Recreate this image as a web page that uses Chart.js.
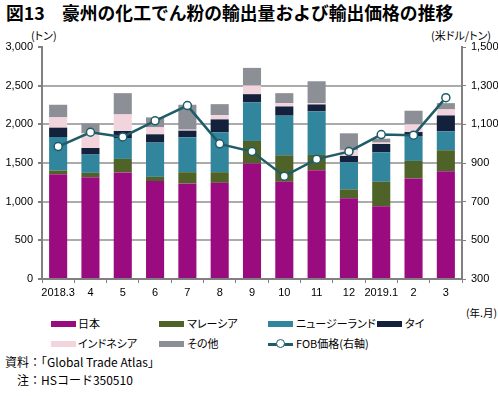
<!DOCTYPE html>
<html>
<head>
<meta charset="utf-8">
<script src="https://cdn.jsdelivr.net/npm/chart.js@4/dist/chart.umd.min.js"></script>
<style>
  body { margin: 0; background: #fff; }
  #wrap { position: relative; width: 498px; height: 396px; overflow: hidden; font-family: "Noto Sans CJK JP", "Liberation Sans", sans-serif; color: #000; }
  #chart { position: absolute; left: 0; top: 0; }
  .t { position: absolute; white-space: nowrap; line-height: 1; }
  .title { font-weight: bold; font-size: 17.8px; top: 4px; }
  .unit { font-size: 11px; top: 30px; font-feature-settings: "palt"; }
  .leg { font-size: 11px; font-feature-settings: "palt"; }
  .sw { position: absolute; width: 25px; height: 6px; }
  .note { font-size: 12px; }
</style>
</head>
<body>
<div id="wrap">
  <div class="t title" style="left:6px">図13</div>
  <div class="t title" style="left:62px">豪州の化工でん粉の輸出量および輸出価格の推移</div>
  <div class="t unit" style="left:31px">(トン)</div>
  <div class="t unit" style="left:431px">(米ドル/トン)</div>
  <canvas id="chart" width="498" height="300"></canvas>
  <div class="t leg" style="left:466px;top:308px;font-size:10.5px">(年.月)</div>

  <div class="sw" style="left:51px;top:321px;background:#9B0B80"></div>
  <div class="t leg" style="left:78px;top:318px">日本</div>
  <div class="sw" style="left:159px;top:321px;background:#4F6228"></div>
  <div class="t leg" style="left:187px;top:318px">マレーシア</div>
  <div class="sw" style="left:268px;top:321px;background:#31859C"></div>
  <div class="t leg" style="left:296px;top:318px">ニュージーランド</div>
  <div class="sw" style="left:377px;top:321px;background:#14213D"></div>
  <div class="t leg" style="left:405px;top:318px">タイ</div>

  <div class="sw" style="left:51px;top:341px;background:#F2D4DC"></div>
  <div class="t leg" style="left:78px;top:338px">インドネシア</div>
  <div class="sw" style="left:159px;top:341px;background:#8C8F96"></div>
  <div class="t leg" style="left:187px;top:338px">その他</div>
  <div class="sw" style="left:268px;top:343px;height:2.5px;background:#1F5C68"></div>
  <div style="position:absolute;left:276px;top:339px;width:7px;height:7px;border:1.5px solid #1F5C68;border-radius:50%;background:#fff"></div>
  <div class="t leg" style="left:296px;top:338px">FOB価格(右軸)</div>

  <div class="t note" style="left:5px;top:356px">資料：「Global Trade Atlas」</div>
  <div class="t note" style="left:17px;top:374px">注：HSコード350510</div>
</div>
<script>
// ---------------------------------------------------------------- DATA ----------------------------------------------------------------
const months = ['2018.3', '4', '5', '6', '7', '8', '9', '10', '11', '12', '2019.1', '2', '3'];

const japan     = [1356, 1317, 1378, 1266, 1236, 1244, 1493, 1257, 1407, 1043,  940, 1300, 1394];
const malaysia  = [  47,   56,  175,   55,  145,  137,  292,  343,  197,  116,  317,  227,  271];
const newZealand= [ 433,  236,  270,  443,  451,  516,  498,  512,  563,  351,  382,  322,  244];
const thailand  = [ 121,   85,   91,  107,   86,  167,  107,  119,   90,   81,  107,   51,  206];
const indonesia = [ 133,  190,  214,   90,   13,   55,  112,   43,   17,   78,   18,  100,   78];
const others    = [ 163,  128,  275,  129,  322,  142,  228,  129,  283,  215,   51,  176,   81];
const fobPrice  = [ 985, 1059, 1035, 1118, 1197,  999,  959,  832,  920,  959, 1047, 1044, 1238];

// ---------------------------------------------------------------- CHART ----------------------------------------------------------------
const tickFont = { family: "'Liberation Sans', Arial, sans-serif", size: 11 };
const axisGray = '#808080';

function bar(label, data, color) {
    return { type: 'bar', label: label, data: data, backgroundColor: color, yAxisID: 'y', order: 2,
             barPercentage: 0.56, categoryPercentage: 1.0 };
}

const ctx = document.getElementById('chart').getContext('2d');
const chart = new Chart(ctx, {
    data: {
        labels: months,
        datasets: [
            {
                type: 'line',
                label: 'FOB価格(右軸)',
                data: fobPrice,
                yAxisID: 'y1',
                order: 0,
                borderColor: '#1F5C68',
                borderWidth: 2.5,
                pointRadius: 4,
                pointBackgroundColor: '#ffffff',
                pointBorderColor: '#1F5C68',
                pointBorderWidth: 1.5,
                tension: 0
            },
            bar('日本', japan, '#9B0B80'),
            bar('マレーシア', malaysia, '#4F6228'),
            bar('ニュージーランド', newZealand, '#31859C'),
            bar('タイ', thailand, '#14213D'),
            bar('インドネシア', indonesia, '#F2D4DC'),
            bar('その他', others, '#8C8F96')
        ]
    },
    options: {
        responsive: false,
        animation: false,
        layout: { padding: { top: 47 } },
        plugins: { legend: { display: false }, tooltip: { enabled: false } },
        scales: {
            x: {
                stacked: true,
                offset: true,
                grid: { offset: true, drawOnChartArea: false, drawTicks: true, tickLength: 4, color: axisGray },
                border: { color: axisGray, width: 2 },
                ticks: { color: '#000', font: tickFont, padding: 3, maxRotation: 0, autoSkip: false },
                afterFit: function(scale) { scale.height = 21; }
            },
            y: {
                stacked: true,
                position: 'left',
                min: 0,
                max: 3000,
                ticks: { stepSize: 500, color: '#000', font: tickFont, padding: 5,
                         callback: v => v.toLocaleString('en-US') },
                grid: {
                    color: c => (c.tick && (c.tick.value === 0 || c.tick.value === 3000)) ? 'rgba(0,0,0,0)' : '#ABABAB',
                    lineWidth: 2,
                    tickColor: axisGray,
                    tickLength: 4
                },
                border: { color: axisGray, width: 2 },
                afterFit: function(scale) { scale.width = 42; }
            },
            y1: {
                position: 'right',
                min: 300,
                max: 1500,
                ticks: { stepSize: 200, color: '#000', font: tickFont, padding: 5,
                         callback: v => v.toLocaleString('en-US') },
                grid: { drawOnChartArea: false, tickColor: axisGray, tickLength: 4 },
                border: { color: axisGray, width: 2 },
                afterFit: function(scale) { scale.width = 36; }
            }
        }
    }
});
</script>
</body>
</html>
